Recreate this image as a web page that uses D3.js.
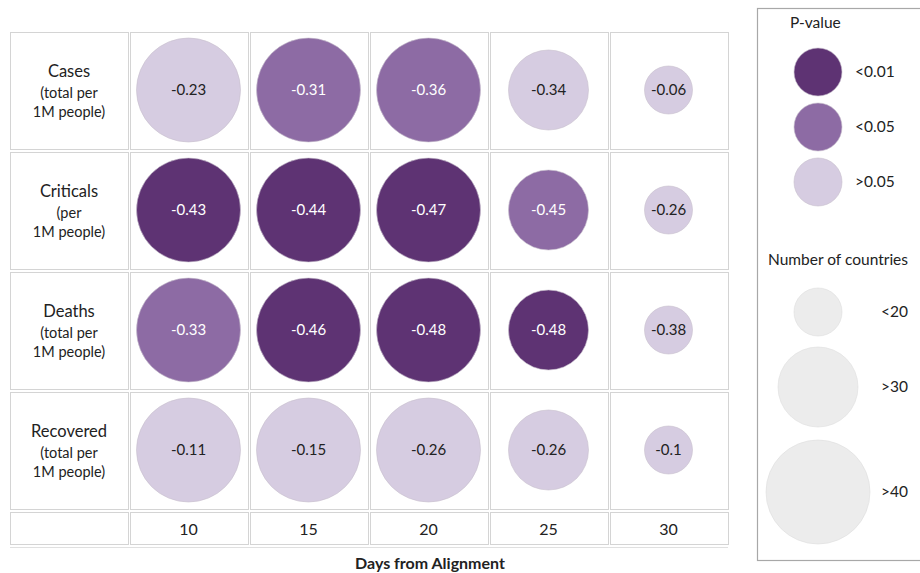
<!DOCTYPE html>
<html>
<head>
<meta charset="utf-8">
<script src="https://cdn.jsdelivr.net/npm/d3@7"></script>
<style>
  body { margin: 0; background: #fff; }
  text { font-family: Lato, "Open Sans", sans-serif; fill: #222; }
</style>
</head>
<body>
<div id="chart"></div>
<script>
"use strict";

// data
var metrics = ["Cases", "Criticals", "Deaths", "Recovered"];
var metricNotes = [["(total per", "1M people)"], ["(per", "1M people)"], ["(total per", "1M people)"], ["(total per", "1M people)"]];
var days = [10, 15, 20, 25, 30];
var corrCases     = [-0.23, -0.31, -0.36, -0.34, -0.06];
var corrCriticals = [-0.43, -0.44, -0.47, -0.45, -0.26];
var corrDeaths    = [-0.33, -0.46, -0.48, -0.48, -0.38];
var corrRecovered = [-0.11, -0.15, -0.26, -0.26, -0.1];
var pCases     = ">0.05 <0.05 <0.05 >0.05 >0.05".split(" ");
var pCriticals = "<0.01 <0.01 <0.01 <0.05 >0.05".split(" ");
var pDeaths    = "<0.05 <0.01 <0.01 <0.01 >0.05".split(" ");
var pRecovered = ">0.05 >0.05 >0.05 >0.05 >0.05".split(" ");
var countriesByDay = [">40", ">40", ">40", ">30", "<20"];
var pLabels = ["<0.01", "<0.05", ">0.05"];
var countryLabels = ["<20", ">30", ">40"];

var corrRows = [corrCases, corrCriticals, corrDeaths, corrRecovered];
var pRows = [pCases, pCriticals, pDeaths, pRecovered];

var W = 920, H = 573;
var svg = d3.select("#chart").append("svg")
  .attr("width", W).attr("height", H);

var color = d3.scaleOrdinal().domain(pLabels).range(["#5e3373", "#8d6ba4", "#d6cce1"]);
var textColor = d3.scaleOrdinal().domain(pLabels).range(["#fff", "#fff", "#222"]);
var radius = d3.scaleOrdinal().domain(countryLabels).range([24, 40, 52]);

var x = d3.scaleBand().domain(["label"].concat(days)).range([10, 730]);
var y = d3.scaleBand().domain(metrics).range([32, 512]);
var axisTop = 512, axisH = 32;

// build cells
var cells = [];
metrics.forEach(function(m, i) {
  days.forEach(function(d, j) {
    cells.push({ metric: m, day: d, r: corrRows[i][j], p: pRows[i][j], n: countriesByDay[j] });
  });
});

var grid = svg.append("g").attr("id", "grid");
var cellStroke = "#d4d4d4";

// label column and data cells borders
metrics.forEach(function(m) {
  x.domain().forEach(function(c) {
    grid.append("rect")
      .attr("x", x(c) + 0.5).attr("y", y(m) + 0.5)
      .attr("width", x.bandwidth() - 2).attr("height", y.bandwidth() - 3)
      .attr("fill", "none").attr("stroke", cellStroke);
  });
});
x.domain().forEach(function(c) {
  grid.append("rect")
    .attr("x", x(c) + 0.5).attr("y", axisTop + 0.5)
    .attr("width", x.bandwidth() - 2).attr("height", axisH)
    .attr("fill", "none").attr("stroke", cellStroke);
});
grid.append("line")
  .attr("x1", x.range()[0]).attr("x2", x.range()[1] - 2)
  .attr("y1", axisTop + axisH + 3.5).attr("y2", axisTop + axisH + 3.5)
  .attr("stroke", "#e0e0e0");

// row labels
var rowLab = svg.append("g").selectAll("g").data(metrics).join("g")
  .attr("transform", function(m) { return "translate(" + (x("label") + 59) + "," + (y(m) + 58) + ")"; });
rowLab.append("text")
  .attr("text-anchor", "middle").attr("y", -13)
  .style("font-size", "16.5px")
  .text(function(m) { return m; });
rowLab.each(function(m, i) {
  var g = d3.select(this);
  metricNotes[i].forEach(function(t, k) {
    g.append("text").attr("text-anchor", "middle")
      .attr("y", 8 + k * 19)
      .style("font-size", "14.5px")
      .text(t);
  });
});

// bubbles
var bub = svg.append("g").selectAll("g").data(cells).join("g")
  .attr("transform", function(d) {
    return "translate(" + (x(d.day) + 58.5) + "," + (y(d.metric) + 58) + ")";
  });
bub.append("circle")
  .attr("r", function(d) { return radius(d.n); })
  .attr("fill", function(d) { return color(d.p); })
  .attr("stroke", "#c8c0cc").attr("stroke-width", 0.6);
bub.append("text")
  .attr("text-anchor", "middle").attr("dy", "0.35em")
  .style("font-size", "15px")
  .style("fill", function(d) { return textColor(d.p); })
  .text(function(d) { return d.r; });

// x ticks
svg.append("g").selectAll("text").data(days).join("text")
  .attr("x", function(d) { return x(d) + 58.5; })
  .attr("y", axisTop + 17)
  .attr("dy", "0.35em")
  .attr("text-anchor", "middle")
  .style("font-size", "16px")
  .text(function(d) { return d; });

svg.append("text")
  .attr("x", (x(10) + x.range()[1]) / 2).attr("y", 563)
  .attr("dy", "0.35em")
  .attr("text-anchor", "middle")
  .style("font-size", "16px").style("font-weight", "bold")
  .text("Days from Alignment");

// legend
var legend = svg.append("g").attr("id", "legend");
legend.append("rect")
  .attr("x", 757.5).attr("y", 8.5).attr("width", 200).attr("height", 552)
  .attr("fill", "none").attr("stroke", "#a8a8a8").attr("stroke-width", 1.2);
legend.append("text").attr("x", 790).attr("y", 23).attr("dy", "0.35em")
  .style("font-size", "15.5px").text("P-value");
legend.selectAll(".pl").data(pLabels).join("circle")
  .attr("class", "pl")
  .attr("cx", 818).attr("cy", function(d, i) { return 72 + i * 55; })
  .attr("r", 24)
  .attr("fill", function(d) { return color(d); })
  .attr("stroke", "#c8c0cc").attr("stroke-width", 0.6);
legend.selectAll(".plt").data(pLabels).join("text")
  .attr("class", "plt")
  .attr("x", 855).attr("y", function(d, i) { return 72 + i * 55; })
  .attr("dy", "0.35em")
  .style("font-size", "15.5px").text(function(d) { return d; });

legend.append("text").attr("x", 768).attr("y", 260).attr("dy", "0.35em")
  .style("font-size", "15.5px").text("Number of countries");
var sizeY = [312, 387, 492];
legend.selectAll(".sl").data(countryLabels).join("circle")
  .attr("class", "sl")
  .attr("cx", 818).attr("cy", function(d, i) { return sizeY[i]; })
  .attr("r", function(d) { return radius(d); })
  .attr("fill", "#ececec").attr("stroke", "#dddddd").attr("stroke-width", 0.6);
legend.selectAll(".slt").data(countryLabels).join("text")
  .attr("class", "slt")
  .attr("x", 881).attr("y", function(d, i) { return sizeY[i]; })
  .attr("dy", "0.35em")
  .style("font-size", "15.5px").text(function(d) { return d; });
</script>
</body>
</html>
